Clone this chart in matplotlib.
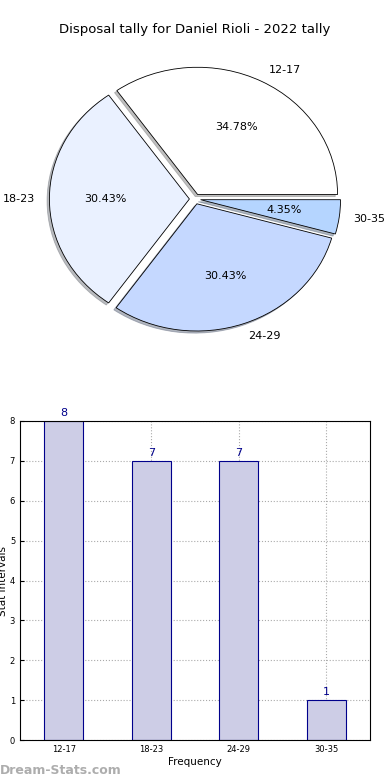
import matplotlib
matplotlib.use("Agg")
import matplotlib.pyplot as plt

categories = ["12-17", "18-23", "24-29", "30-35"]
counts = [8, 7, 7, 1]
pie_colors = ["#ffffff", "#eaf1ff", "#c5d8ff", "#b5d5ff"]
title = "Disposal tally for Daniel Rioli - 2022 tally"

fig = plt.figure(figsize=(3.9, 7.8), dpi=100)
W, H = 390, 780

# Pie axes
ax1 = fig.add_axes([20 / W, 1 - 358 / H, 350 / W, 318 / H])
wedges, texts, autotexts = ax1.pie(
    counts, labels=categories, colors=pie_colors, autopct="%1.2f%%",
    explode=[0.04] * 4, shadow=dict(ox=-0.012, oy=-0.012, shade=0.5), startangle=0,
    wedgeprops=dict(edgecolor="black", linewidth=0.6),
    textprops=dict(fontsize=8),
)
ax1.set_aspect("auto")
ax1.set_xlim(-1.25, 1.25)
ax1.set_ylim(-1.25, 1.25)
fig.text(0.5, 1 - 30 / H, title, ha="center", va="center", fontsize=9.5)

# Bar axes
ax2 = fig.add_axes([20 / W, 1 - 740 / H, 350 / W, 319 / H])
x = list(range(len(categories)))
ax2.bar(x, counts, width=0.45, color="#cdcde6", edgecolor="#00008b", linewidth=0.8, zorder=2)
for xi, c in zip(x, counts):
    ax2.text(xi, c + 0.08, str(c), ha="center", va="bottom", color="#00008b", fontsize=8)
ax2.set_xlim(-0.5, 3.5)
ax2.set_ylim(0, 8)
ax2.set_xticks(x)
ax2.set_xticklabels(categories)
ax2.set_yticks(range(0, 9))
ax2.tick_params(labelsize=6, direction="in", length=3)
ax2.grid(True, linestyle=":", color="#aaaaaa", linewidth=0.8, zorder=0)
ax2.set_axisbelow(True)
ax2.set_xlabel("Frequency", fontsize=7.5, labelpad=2)
ax2.set_ylabel("Stat Intervals", fontsize=7.5, labelpad=1)

fig.text(0 / W, 1 - 771 / H, "Dream-Stats.com", ha="left", va="center", fontsize=9,
         color="#999999", fontweight="bold", alpha=0.8)

fig.savefig("out.png", dpi=100)
